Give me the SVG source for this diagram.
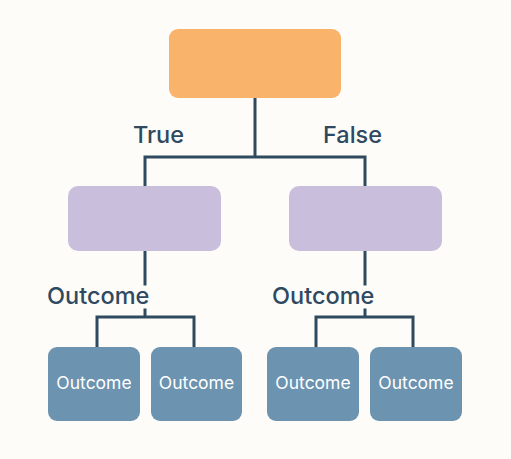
<svg xmlns="http://www.w3.org/2000/svg" width="511" height="459" viewBox="0 0 511 459">
<style>
.c{fill:none;stroke:#2F4A5F;stroke-width:3;stroke-linecap:square}
.lbl{font-family:Inter,"Liberation Sans",sans-serif;font-size:23.5px;font-weight:500;fill:#2E4960}
.out rect{fill:#6C93B0}
.out text{font-family:Inter,"Liberation Sans",sans-serif;font-size:17.5px;fill:#fff;text-anchor:middle}
.mid{fill:#C9BFDC}
</style>
<rect width="511" height="459" fill="#FDFCF9"/>
<g id="connectors">
<path class="c" d="M255 98V157M145 186V157H365V186"/>
<path class="c" d="M145 251V284M145 310V317M97 346V317H194V346"/>
<path class="c" d="M365 251V284M365 310V317M316 346V317H413V346"/>
</g>
<g id="root"><rect x="169" y="29" width="172" height="69" rx="9" fill="#F9B36B"/></g>
<text class="lbl" x="133" y="143">True</text>
<text class="lbl" x="323" y="143">False</text>
<g id="left"><rect class="mid" x="68" y="186" width="153" height="65" rx="10"/></g>
<g id="right"><rect class="mid" x="289" y="186" width="153" height="65" rx="10"/></g>
<text class="lbl" x="47" y="304">Outcome</text>
<text class="lbl" x="272" y="304">Outcome</text>
<g id="o1" class="out"><rect x="48" y="347" width="92" height="74" rx="9"/><text x="94" y="389">Outcome</text></g>
<g id="o2" class="out"><rect x="151" y="347" width="91" height="74" rx="9"/><text x="196.5" y="389">Outcome</text></g>
<g id="o3" class="out"><rect x="267" y="347" width="92" height="74" rx="9"/><text x="313" y="389">Outcome</text></g>
<g id="o4" class="out"><rect x="370" y="347" width="92" height="74" rx="9"/><text x="416" y="389">Outcome</text></g>
</svg>
